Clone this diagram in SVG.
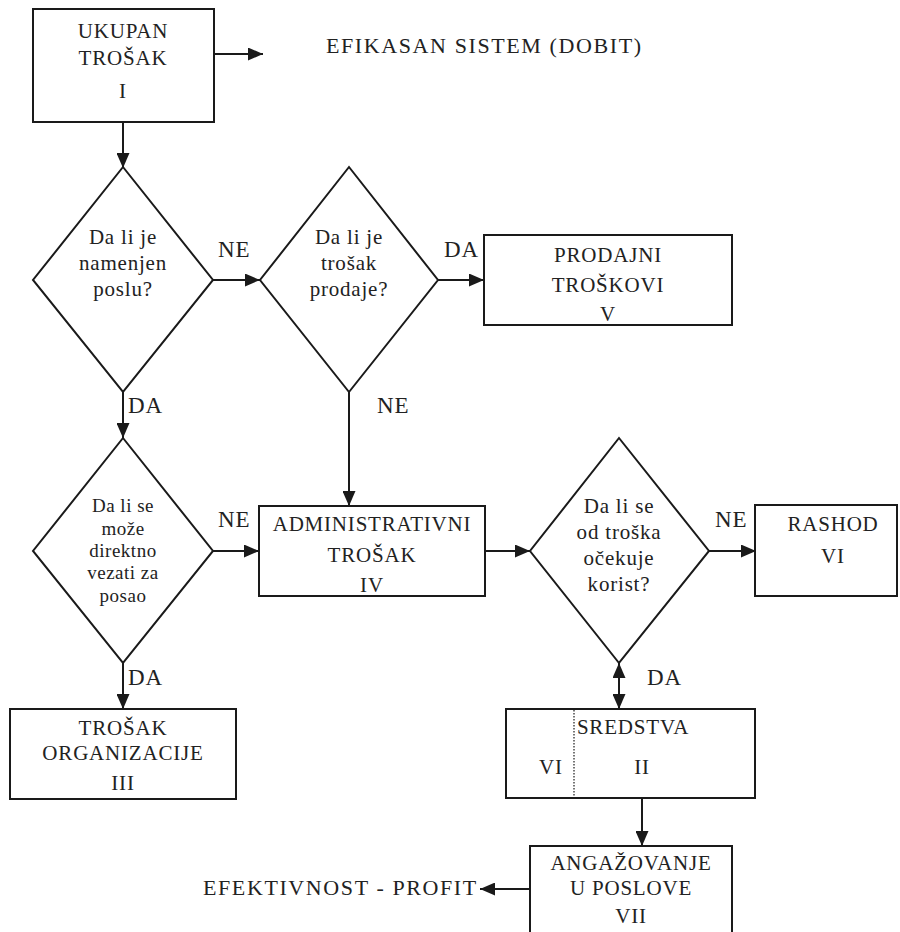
<svg xmlns="http://www.w3.org/2000/svg" width="900" height="932" viewBox="0 0 900 932">
<style>
.b{fill:#fff;stroke:#1a1a1a;stroke-width:2}
.c{fill:none;stroke:#1a1a1a;stroke-width:2}
text{letter-spacing:0.8px}
.s{font-size:19px;letter-spacing:0.5px}
.l{font-size:23px;text-anchor:start}
.t{font-size:22px;text-anchor:start;letter-spacing:1.6px}
</style>
<defs>
<marker id="a" markerUnits="userSpaceOnUse" markerWidth="15" markerHeight="13" refX="15" refY="6.5" orient="auto-start-reverse">
<path d="M0,0 L15,6.5 L0,13 z" fill="#1a1a1a"/>
</marker>
</defs>
<rect width="900" height="932" fill="#fff"/>
<g font-family="Liberation Serif, DejaVu Serif, serif" font-size="21" fill="#222" text-anchor="middle">
<g id="connectors">
<path class="c" d="M214,54 H263" marker-end="url(#a)"/>
<path class="c" d="M123,122 V168" marker-end="url(#a)"/>
<path class="c" d="M213,280 H260" marker-end="url(#a)"/>
<path class="c" d="M438,280 H484" marker-end="url(#a)"/>
<path class="c" d="M123,392 V438" marker-end="url(#a)"/>
<path class="c" d="M349,392 V506" marker-end="url(#a)"/>
<path class="c" d="M213,551 H259" marker-end="url(#a)"/>
<path class="c" d="M123,663 V709" marker-end="url(#a)"/>
<path class="c" d="M485,551 H530" marker-end="url(#a)"/>
<path class="c" d="M709,551 H756" marker-end="url(#a)"/>
<path class="c" d="M619,663 V709" marker-start="url(#a)" marker-end="url(#a)"/>
<path class="c" d="M642,798 V846" marker-end="url(#a)"/>
<path class="c" d="M530,889 H480" marker-end="url(#a)"/>
<text class="l" x="218" y="257">NE</text>
<text class="l" x="444" y="257">DA</text>
<text class="l" x="128" y="413">DA</text>
<text class="l" x="377" y="413">NE</text>
<text class="l" x="218" y="527">NE</text>
<text class="l" x="128" y="685">DA</text>
<text class="l" x="715" y="527">NE</text>
<text class="l" x="647" y="685">DA</text>
</g>
<g id="n1">
<rect class="b" x="33" y="9" width="181" height="113"/>
<text x="123" y="38">UKUPAN</text>
<text x="123" y="65">TROŠAK</text>
<text x="123" y="98">I</text>
</g>
<g id="efikasan">
<text class="t" x="326" y="53">EFIKASAN SISTEM (DOBIT)</text>
</g>
<g id="d1">
<path class="b" d="M123,167 L213,280 L123,392 L33,280 z"/>
<text x="123" y="244">Da li je</text>
<text x="123" y="270">namenjen</text>
<text x="123" y="296">poslu?</text>
</g>
<g id="d2">
<path class="b" d="M349,167 L438,280 L349,392 L260,280 z"/>
<text x="349" y="244">Da li je</text>
<text x="349" y="270">trošak</text>
<text x="349" y="296">prodaje?</text>
</g>
<g id="n5">
<rect class="b" x="484" y="235" width="248" height="90"/>
<text x="608" y="262">PRODAJNI</text>
<text x="608" y="292">TROŠKOVI</text>
<text x="608" y="321">V</text>
</g>
<g id="d3">
<path class="b" d="M123,438 L213,551 L123,663 L33,551 z"/>
<text class="s" x="123" y="512">Da li se</text>
<text class="s" x="123" y="535">može</text>
<text class="s" x="123" y="557">direktno</text>
<text class="s" x="123" y="579">vezati za</text>
<text class="s" x="123" y="602">posao</text>
</g>
<g id="n4">
<rect class="b" x="259" y="506" width="226" height="90"/>
<text x="372" y="531">ADMINISTRATIVNI</text>
<text x="372" y="562">TROŠAK</text>
<text x="372" y="592">IV</text>
</g>
<g id="d4">
<path class="b" d="M619,438 L709,551 L619,663 L530,551 z"/>
<text x="619" y="513">Da li se</text>
<text x="619" y="539">od troška</text>
<text x="619" y="565">očekuje</text>
<text x="619" y="591">korist?</text>
</g>
<g id="n6">
<rect class="b" x="755" y="505" width="142" height="91"/>
<text x="833" y="531">RASHOD</text>
<text x="833" y="563">VI</text>
</g>
<g id="n3">
<rect class="b" x="10" y="709" width="226" height="90"/>
<text x="123" y="735">TROŠAK</text>
<text x="123" y="760">ORGANIZACIJE</text>
<text x="123" y="790">III</text>
</g>
<g id="n2">
<rect class="b" x="506" y="709" width="249" height="89"/>
<path d="M574,710 V797" stroke="#1a1a1a" stroke-width="1.2" stroke-dasharray="1.5,1.5" fill="none"/>
<text x="633" y="734">SREDSTVA</text>
<text x="551" y="774">VI</text>
<text x="642" y="774">II</text>
</g>
<g id="n7">
<rect class="b" x="530" y="846" width="202" height="100"/>
<text x="631" y="870">ANGAŽOVANJE</text>
<text x="631" y="895">U POSLOVE</text>
<text x="631" y="923">VII</text>
</g>
<g id="efektivnost">
<text class="t" x="203" y="895">EFEKTIVNOST - PROFIT</text>
</g>
</g>
</svg>
